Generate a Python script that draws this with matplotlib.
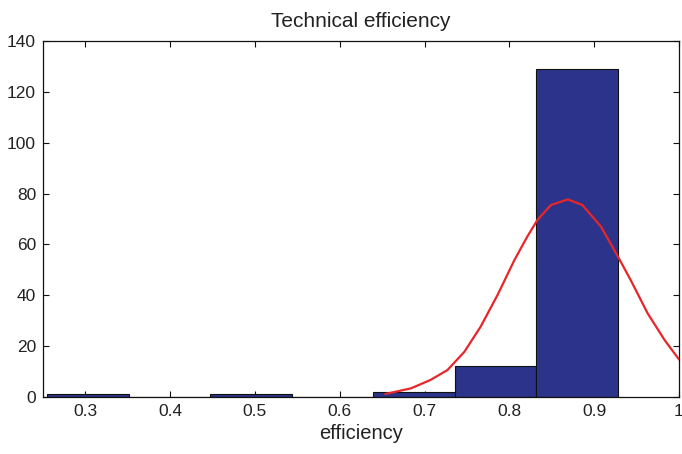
import numpy as np
import matplotlib.pyplot as plt

plt.rcParams['font.family'] = ['Liberation Sans', 'DejaVu Sans']

# histogram bins (edges) and counts
bin_edges = [0.2551, 0.3512, 0.4473, 0.5434, 0.6395, 0.7356, 0.8317, 0.9278]
counts = [1, 0, 1, 0, 2, 12, 129]

# fitted curve, points
curve_x = [0.654, 0.684, 0.707, 0.727, 0.747, 0.766, 0.786, 0.806, 0.821, 0.833,
           0.849, 0.869, 0.886, 0.908, 0.928, 0.943, 0.963, 0.983, 0.999, 1.005]
curve_y = [1.2, 3.4, 6.7, 10.6, 17.8, 27.6, 40.1, 53.9, 63.0, 69.6,
           75.5, 77.7, 75.5, 67.0, 55.2, 46.0, 32.9, 22.4, 15.2, 13.0]

x_ticks = [0.3, 0.4, 0.5, 0.6, 0.7, 0.8, 0.9, 1.0]
x_ticklabels = ['0.3', '0.4', '0.5', '0.6', '0.7', '0.8', '0.9', '1']
y_ticks = [0, 20, 40, 60, 80, 100, 120, 140]

BAR, RED, TXT = '#2B338A', '#E8262A', '#222222'

fig = plt.figure(figsize=(6.82, 4.54), dpi=100)
ax = fig.add_axes([0.063, 0.1256, 0.9326, 0.7841])

widths = np.diff(bin_edges)
ax.bar(bin_edges[:-1], counts, width=widths, align='edge', color=BAR, edgecolor='#111111', linewidth=0.8, zorder=2)
ax.plot(curve_x, curve_y, color=RED, linewidth=1.6, zorder=3)

ax.set_xlim(0.25, 1.0)
ax.set_ylim(0, 140)
ax.set_xticks(x_ticks)
ax.set_xticklabels(x_ticklabels)
ax.set_yticks(y_ticks)
ax.tick_params(direction='in', length=4, width=0.8, top=True, right=True, labelsize=12.5, colors='#111111', labelcolor=TXT, pad=5)
for s in ax.spines.values():
    s.set_linewidth(0.9)
    s.set_color('#111111')

ax.set_title('Technical efficiency', fontsize=15, color=TXT, pad=10)
ax.set_xlabel('efficiency', fontsize=14.5, color=TXT, labelpad=4)

fig.savefig('out.png', dpi=100, facecolor='white')
